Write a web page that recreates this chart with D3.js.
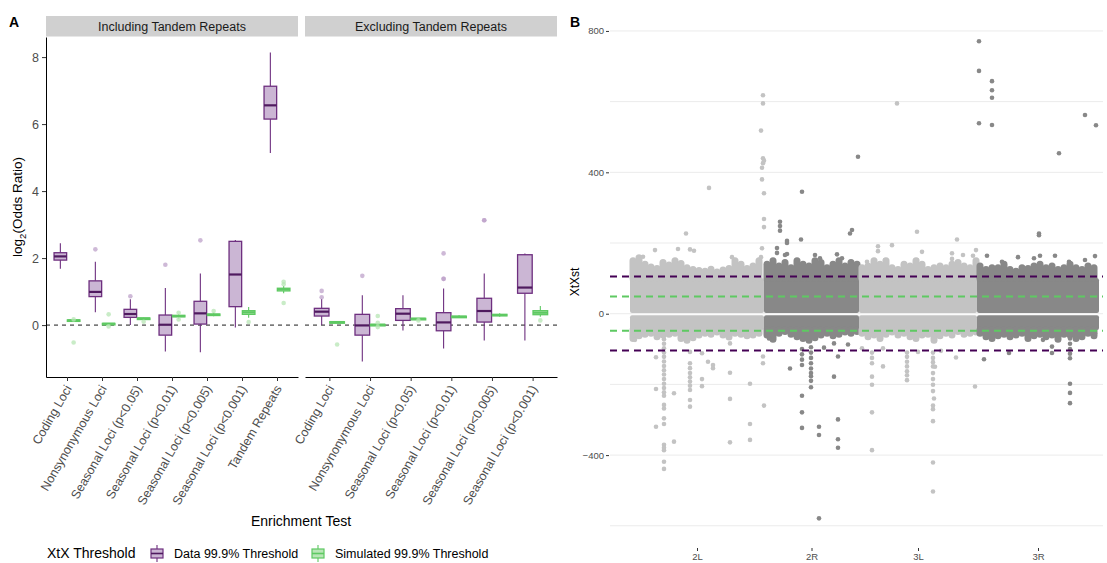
<!DOCTYPE html>
<html>
<head>
<meta charset="utf-8">
<script src="https://cdn.jsdelivr.net/npm/d3@7"></script>
<style>
  body { margin: 0; background: #fff; }
  svg { font-family: "Liberation Sans", Arial, sans-serif; }
</style>
</head>
<body>
<div id="chart"></div>
<script>
// ---------- panel A data ----------
const testsInc = ["Coding Loci", "Nonsynonymous Loci", "Seasonal Loci (p<0.05)", "Seasonal Loci (p<0.01)",
    "Seasonal Loci (p<0.005)", "Seasonal Loci (p<0.001)", "Tandem Repeats"];
const testsExc = testsInc.slice(0, 6);

// box stats: [lower whisker, q1, median, q3, upper whisker]
const dataInc = [
    [1.68, 1.94, 2.05, 2.16, 2.44],
    [0.38, 0.85, 0.99, 1.32, 1.89],
    [0.00, 0.23, 0.33, 0.47, 0.77],
    [-0.79, -0.30, 0.01, 0.30, 1.11],
    [-0.81, 0.03, 0.35, 0.71, 1.54],
    [-0.07, 0.55, 1.51, 2.50, 2.54],
    [5.14, 6.15, 6.56, 7.13, 8.14]
];
const dataIncOut = [[], [2.26], [0.86], [1.80], [2.53], [], []];
const simInc = [
    [0.12, 0.125, 0.14, 0.155, 0.16],
    [0.02, 0.025, 0.04, 0.05, 0.06],
    [0.18, 0.185, 0.20, 0.21, 0.22],
    [0.20, 0.245, 0.27, 0.29, 0.33],
    [0.26, 0.285, 0.31, 0.33, 0.37],
    [0.22, 0.32, 0.38, 0.43, 0.54],
    [0.95, 1.02, 1.07, 1.10, 1.17]
];
const simIncOut = [[0.17, -0.52], [0.32, -0.04], [0.10], [0.37, 0.17], [0.42], [0.09], [1.29, 1.22, 0.66]];

const dataExc = [
    [0.00, 0.27, 0.40, 0.50, 0.78],
    [-1.09, -0.30, -0.01, 0.32, 0.89],
    [-0.16, 0.14, 0.34, 0.49, 0.89],
    [-0.70, -0.17, 0.08, 0.37, 1.09],
    [-0.46, 0.09, 0.42, 0.80, 1.54],
    [-0.46, 0.95, 1.12, 2.10, 2.14]
];
const dataExcOut = [[0.83, 1.02], [1.47], [], [1.38, 1.38, 2.14], [3.13, 3.13], []];
const simExc = [
    [0.07, 0.08, 0.09, 0.10, 0.11],
    [-0.02, -0.01, 0.01, 0.02, 0.03],
    [0.17, 0.18, 0.19, 0.20, 0.21],
    [0.21, 0.235, 0.25, 0.265, 0.29],
    [0.25, 0.28, 0.30, 0.32, 0.35],
    [0.25, 0.31, 0.37, 0.43, 0.57]
];
const simExcOut = [[-0.58], [0.27, 0.07, -0.06], [0.14], [], [], [0.14]];

const yTicksA = [0, 2, 4, 6, 8];

// ---------- panel B data ----------
const chroms = ["2L", "2R", "3L", "3R"];
const chromLen = [134, 95, 118, 122];      // SNP index span (thousands)
const coreUpper = [2, 100];                // solid band of XtXst values
const coreLower = [-46, -4];
const edgeStep = 6;
// tops / bottoms of the dense point clouds, one value every edgeStep along each arm
const upperEdge = [
    [150, 158, 140, 132, 128, 145, 138, 150, 142, 130, 125, 122, 120, 126, 118, 124, 128, 150, 140, 128, 135, 150],
    [140, 150, 135, 145, 130, 150, 140, 135, 150, 145, 130, 140, 150, 135, 145, 140],
    [130, 135, 150, 140, 150, 130, 125, 140, 135, 150, 140, 125, 130, 135, 130, 140, 145, 135, 130, 150],
    [135, 125, 130, 130, 140, 125, 120, 130, 128, 135, 140, 130, 135, 125, 130, 140, 130, 125, 135, 130]
];
const lowerEdge = [
    [-70, -62, -58, -55, -65, -60, -58, -55, -70, -75, -68, -60, -55, -58, -52, -60, -66, -55, -58, -62, -60, -55],
    [-60, -72, -55, -50, -58, -65, -70, -75, -68, -60, -55, -62, -58, -52, -55, -50],
    [-55, -65, -60, -70, -58, -52, -60, -55, -65, -70, -60, -58, -75, -62, -55, -60, -50, -58, -55, -52],
    [-55, -65, -70, -62, -58, -65, -60, -55, -70, -62, -58, -65, -60, -72, -58, -60, -70, -65, -55, -62]
];
// single SNPs outside the clouds: [position within arm, XtXst]
const points2L = [
    [133, 618], [133, 595], [131, 518], [133, 440], [134, 433], [133, 426], [132, 413], [132, 380], [134, 341],
    [134, 268], [134, 245], [132, 185], [131, 160], [79, 356], [56, 227], [25, 180], [48, 183], [60, 182],
    [64, 178], [13, 161], [102, 160],
    [34, -72], [34, -85], [34, -98], [34, -110], [34, -122], [34, -135], [34, -148], [34, -160], [34, -172],
    [34, -185], [34, -198], [34, -210], [34, -222], [34, -232], [34, -258], [34, -268], [34, -296], [34, -312],
    [34, -371], [34, -379], [34, -386], [34, -419], [34, -439],
    [26, -123], [26, -213], [26, -320], [44, -225], [44, -362],
    [60, -108], [60, -140], [60, -154], [60, -168], [60, -180], [60, -192], [60, -204], [60, -216], [60, -244], [60, -263],
    [72, -112], [72, -185], [72, -205], [78, -136], [83, -145], [83, -154],
    [100, -84], [100, -167], [100, -241], [100, -364], [120, -198], [120, -312], [120, -357],
    [5, -74], [134, -260], [133, -121], [133, -140]
];
const points2R = [
    [38, 345], [16, 260], [16, 248], [16, 235], [23, 206], [23, 200], [23, 169], [37, 210], [13, 186], [13, 172],
    [86, 227], [88, 237], [94, 444], [21, 166], [51, 166], [56, 157], [73, 168], [78, 157],
    [5, -70], [26, -155],
    [38, -100], [38, -115], [38, -130], [38, -145], [38, -232], [38, -279], [38, -323],
    [47, -95], [47, -110], [47, -125], [47, -140], [47, -155], [47, -168], [47, -177], [47, -190], [47, -208],
    [55, -320], [55, -343], [55, -579], [60, -96], [70, -178], [70, -84],
    [74, -121], [74, -299], [74, -355], [74, -379], [84, -87]
];
const points3L = [
    [38, 595], [58, 232], [98, 210], [19, 191], [19, 177], [33, 194], [63, 175], [93, 171], [93, 155],
    [104, 166], [114, 164], [117, 180], [8, 147], [26, 152], [58, 152],
    [3, -98], [13, -110], [13, -125], [13, -140], [13, -178], [13, -201], [13, -279], [13, -386],
    [24, -149], [24, -98],
    [48, -110], [48, -122], [48, -136], [48, -149], [48, -163], [48, -174], [48, -188], [59, -108],
    [74, -110], [74, -125], [74, -137], [74, -149], [74, -168], [74, -185], [74, -201], [74, -219],
    [74, -260], [74, -270], [74, -304], [74, -421], [74, -503],
    [76, -150], [75, -240], [97, -124], [116, -206], [82, -105]
];
const points3R = [
    [2, 771], [2, 687], [2, 539], [15, 658], [15, 632], [15, 611], [15, 534], [82, 454], [108, 562], [119, 533],
    [62, 227], [62, 222], [10, 164], [41, 160], [57, 157], [63, 164], [78, 164], [108, 152], [118, 163],
    [92, 147], [25, 147],
    [7, -129], [32, -111], [66, -74], [75, -93], [75, -111],
    [93, -70], [93, -85], [93, -100], [93, -113], [93, -126], [93, -198], [93, -224], [93, -253], [118, -56]
];
const dataThreshold = [105, -104];
const simThreshold = [49, -48];
const yTicksB = [800, 400, 0, -400];
const yGridB = [800, 600, 400, 200, 0, -200, -400, -600];

// ---------- drawing ----------
const purple = "#6e2f7f", purpleFill = "#cbb6d4", purpleMed = "#4f1a5f", purpleOut = "#bda2c9";
const green = "#5ec962", greenFill = "#b9e6b7", greenOut = "#b7e5b4";
const textGrey = "#4d4d4d";

const svg = d3.select("#chart")
    .append("svg")
    .attr("width", 1107)
    .attr("height", 563);

const yA = d3.scaleLinear().domain([-1.55, 8.6]).range([377, 37]);

svg.append("text").attr("x", 9).attr("y", 27)
    .style("font-size", "14px").style("font-weight", "bold").text("A");

function drawBox(g, stats, outs, cx, w, col) {
    const [lo, q1, med, q3, hi] = stats;
    g.append("line").attr("x1", cx).attr("x2", cx).attr("y1", yA(lo)).attr("y2", yA(q1))
        .attr("stroke", col.line).attr("stroke-width", 1.1);
    g.append("line").attr("x1", cx).attr("x2", cx).attr("y1", yA(q3)).attr("y2", yA(hi))
        .attr("stroke", col.line).attr("stroke-width", 1.1);
    g.append("rect")
        .attr("x", cx - w / 2).attr("width", w)
        .attr("y", yA(q3)).attr("height", Math.max(yA(q1) - yA(q3), 1.5))
        .attr("fill", col.fill).attr("stroke", col.line).attr("stroke-width", 1.3);
    g.append("line").attr("x1", cx - w / 2).attr("x2", cx + w / 2).attr("y1", yA(med)).attr("y2", yA(med))
        .attr("stroke", col.med).attr("stroke-width", 2.2);
    g.selectAll(null).data(outs).enter().append("circle")
        .attr("cx", cx).attr("cy", d => yA(d)).attr("r", 2.3)
        .attr("fill", col.out).attr("fill-opacity", 0.75);
}

function drawFacet({ title, tests, data, dataOut, sim, simOut, x0, x1 }) {
    const x = d3.scalePoint().domain(tests).range([x0, x1]).padding(0.6);
    const step = x.step();

    svg.append("rect").attr("x", x0).attr("y", 16).attr("width", x1 - x0).attr("height", 20.5)
        .attr("fill", "#d0d0d0");
    svg.append("text").attr("x", (x0 + x1) / 2).attr("y", 30.5).attr("text-anchor", "middle")
        .style("font-size", "12.5px").attr("fill", "#1a1a1a").text(title);

    svg.append("line").attr("x1", x0).attr("x2", x1).attr("y1", yA(0)).attr("y2", yA(0))
        .attr("stroke", "black").attr("stroke-width", 0.9).attr("stroke-dasharray", "4,4");

    const g = svg.append("g");
    tests.forEach((t, i) => {
        drawBox(g, data[i], dataOut[i], x(t) - 0.19 * step, 0.36 * step,
            { line: purple, fill: purpleFill, med: purpleMed, out: purpleOut });
        drawBox(g, sim[i], simOut[i], x(t) + 0.19 * step, 0.36 * step,
            { line: green, fill: greenFill, med: green, out: greenOut });
    });

    const ax = svg.append("g")
        .attr("transform", "translate(0,377)")
        .call(d3.axisBottom(x).tickSize(4).tickSizeOuter(0));
    ax.select(".domain").attr("stroke", "black").attr("stroke-width", 1);
    ax.selectAll(".tick line").attr("stroke", "#333");
    ax.selectAll(".tick text")
        .attr("y", 0).attr("dy", "0.71em")
        .attr("transform", "translate(-3,7) rotate(-60)")
        .attr("text-anchor", "end")
        .attr("fill", textGrey)
        .style("font-size", "12.5px")
        .style("font-family", "'Liberation Sans', Arial, sans-serif");
}

drawFacet({ title: "Including Tandem Repeats", tests: testsInc, data: dataInc, dataOut: dataIncOut,
    sim: simInc, simOut: simIncOut, x0: 46, x1: 298 });
drawFacet({ title: "Excluding Tandem Repeats", tests: testsExc, data: dataExc, dataOut: dataExcOut,
    sim: simExc, simOut: simExcOut, x0: 305, x1: 557 });

const ayA = svg.append("g")
    .attr("transform", "translate(46,0)")
    .call(d3.axisLeft(yA).tickValues(yTicksA).tickSize(4).tickSizeOuter(0));
ayA.select(".domain").attr("stroke", "black").attr("stroke-width", 1);
ayA.selectAll(".tick line").attr("stroke", "#333");
ayA.selectAll(".tick text").attr("fill", textGrey)
    .style("font-size", "12.5px").style("font-family", "'Liberation Sans', Arial, sans-serif");

const yTitle = svg.append("text")
    .attr("transform", "translate(22,207) rotate(-90)")
    .attr("text-anchor", "middle")
    .style("font-size", "13.5px");
yTitle.append("tspan").text("log");
yTitle.append("tspan").attr("dy", 4).style("font-size", "9.5px").text("2");
yTitle.append("tspan").attr("dy", -4).text("(Odds Ratio)");

svg.append("text").attr("x", 301).attr("y", 526).attr("text-anchor", "middle")
    .style("font-size", "14px").text("Enrichment Test");

// legend
svg.append("text").attr("x", 47).attr("y", 558).style("font-size", "14px").text("XtX Threshold");
const legendItems = [
    { label: "Data 99.9% Threshold", line: purple, fill: purpleFill, med: purpleMed, x: 150 },
    { label: "Simulated 99.9% Threshold", line: green, fill: greenFill, med: green, x: 311 }
];
legendItems.forEach(d => {
    const cx = d.x + 7;
    svg.append("line").attr("x1", cx).attr("x2", cx).attr("y1", 545).attr("y2", 562)
        .attr("stroke", d.line).attr("stroke-width", 1.1);
    svg.append("rect").attr("x", d.x + 1).attr("y", 549).attr("width", 12).attr("height", 9)
        .attr("fill", d.fill).attr("stroke", d.line).attr("stroke-width", 1.2);
    svg.append("line").attr("x1", d.x + 1).attr("x2", d.x + 13).attr("y1", 553.5).attr("y2", 553.5)
        .attr("stroke", d.med).attr("stroke-width", 1.6);
    svg.append("text").attr("x", d.x + 24).attr("y", 558).style("font-size", "12.5px").text(d.label);
});

// ---------- panel B ----------
const xB = d3.scaleLinear().domain([-20, 473]).range([610, 1103]);
const yB = d3.scaleLinear().domain([-660, 840]).range([547, 16.8]);
const starts = chromLen.map((d, i) => d3.sum(chromLen.slice(0, i)));
const chromColor = ["#c3c3c3", "#888888", "#c3c3c3", "#888888"];
const chromPoints = [points2L, points2R, points3L, points3R];

svg.append("text").attr("x", 570).attr("y", 27)
    .style("font-size", "14px").style("font-weight", "bold").text("B");

svg.append("g").selectAll("line").data(yGridB).enter().append("line")
    .attr("x1", 610).attr("x2", 1103)
    .attr("y1", d => yB(d)).attr("y2", d => yB(d))
    .attr("stroke", "#ebebeb").attr("stroke-width", 1);

const pts = svg.append("g");
chroms.forEach((c, ci) => {
    const s = starts[ci], col = chromColor[ci];
    [coreUpper, coreLower].forEach(core => {
        pts.append("rect")
            .attr("x", xB(s)).attr("width", xB(s + chromLen[ci]) - xB(s))
            .attr("y", yB(core[1])).attr("height", yB(core[0]) - yB(core[1]))
            .attr("rx", 2).attr("fill", col);
    });
    upperEdge[ci].forEach((v, i) => {
        const p = s + 3 + edgeStep * i;
        pts.append("line").attr("x1", xB(p)).attr("x2", xB(p))
            .attr("y1", yB(coreUpper[1])).attr("y2", yB(v))
            .attr("stroke", col).attr("stroke-width", 7).attr("stroke-linecap", "round");
    });
    lowerEdge[ci].forEach((v, i) => {
        const p = s + 3 + edgeStep * i;
        pts.append("line").attr("x1", xB(p)).attr("x2", xB(p))
            .attr("y1", yB(coreLower[0])).attr("y2", yB(v))
            .attr("stroke", col).attr("stroke-width", 7).attr("stroke-linecap", "round");
    });
    pts.selectAll(null).data(chromPoints[ci]).enter().append("circle")
        .attr("cx", d => xB(s + d[0])).attr("cy", d => yB(d[1])).attr("r", 2.3)
        .attr("fill", col);
});

[[dataThreshold, "#440154"], [simThreshold, green]].forEach(([vals, col]) => {
    svg.append("g").selectAll("line").data(vals).enter().append("line")
        .attr("x1", 610).attr("x2", 1103)
        .attr("y1", d => yB(d)).attr("y2", d => yB(d))
        .attr("stroke", col).attr("stroke-width", 2).attr("stroke-dasharray", "7,5");
});

const ayB = svg.append("g")
    .attr("transform", "translate(609,0)")
    .call(d3.axisLeft(yB).tickValues(yTicksB).tickSize(3).tickPadding(2));
ayB.select(".domain").remove();
ayB.selectAll(".tick line").attr("stroke", "#333");
ayB.selectAll(".tick text").attr("fill", textGrey)
    .style("font-size", "9.5px").style("font-family", "'Liberation Sans', Arial, sans-serif");

const mids = chroms.map((c, i) => starts[i] + chromLen[i] / 2);
const axB = svg.append("g")
    .attr("transform", "translate(0,548)")
    .call(d3.axisBottom(xB).tickValues(mids).tickFormat((d, i) => chroms[i]).tickSize(3).tickPadding(2));
axB.select(".domain").remove();
axB.selectAll(".tick line").attr("stroke", "#333");
axB.selectAll(".tick text").attr("fill", textGrey)
    .style("font-size", "9.5px").style("font-family", "'Liberation Sans', Arial, sans-serif");

svg.append("text")
    .attr("transform", "translate(579,282) rotate(-90)")
    .attr("text-anchor", "middle")
    .style("font-size", "12px").text("XtXst");
</script>
</body>
</html>
